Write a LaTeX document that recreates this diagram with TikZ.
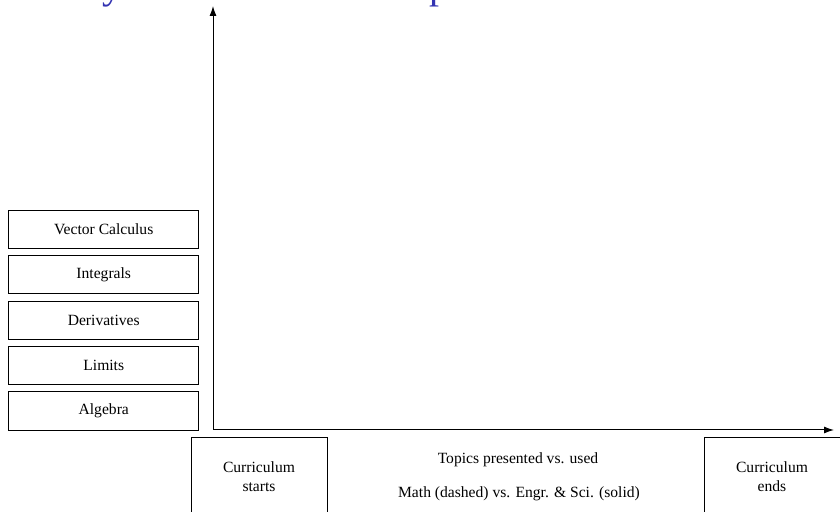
\documentclass[tikz,border=0pt]{standalone}
\usepackage{fontspec}
\setmainfont{Liberation Serif}
\usetikzlibrary{arrows.meta}
\definecolor{titleblue}{rgb}{0.2,0.2,0.7}
\begin{document}
\begin{tikzpicture}[x=0.5pt,y=-0.5pt,
  topicbox/.style={draw=black,line width=0.5pt,minimum width=95pt,minimum height=19.25pt,inner sep=0pt,font=\fontsize{7.8}{9.5}\selectfont},
  endbox/.style={draw=black,line width=0.5pt,minimum width=68pt,minimum height=39pt,inner sep=0pt,anchor=north,align=center,font=\fontsize{7.8}{9.5}\selectfont},
  axis/.style={line width=0.5pt,-{Latex[length=5pt,width=3.5pt]}},
  plain/.style={align=center,inner sep=0pt,font=\fontsize{7.8}{9.5}\selectfont}]
\useasboundingbox (0,0) rectangle (840,512);
\clip (0,0) rectangle (840,512);
\node[anchor=base west,inner sep=0pt,text=titleblue,font=\fontsize{20}{24}\selectfont] (title) at (44,-1) {Why Math Is Out of Step};
\node[topicbox] (vc) at (103.75,229.5) {Vector Calculus};
\node[topicbox] (int) at (103.75,274.5) {Integrals};
\node[topicbox] (der) at (103.75,320.5) {Derivatives};
\node[topicbox] (lim) at (103.75,365.5) {Limits};
\node[topicbox] (alg) at (103.75,411) {Algebra};
\coordinate (origin) at (213,430);
\coordinate (ytip) at (213,6);
\coordinate (xtip) at (834,430);
\draw[axis] (origin) -- (ytip);
\draw[axis] (origin) -- (xtip);
\node[endbox] (start) at (259,437) {Curriculum\\starts};
\node[endbox] (end) at (772,437) {Curriculum\\ends};
\node[plain] (topics) at (518,460) {Topics presented vs. used};
\node[plain] (legend) at (519,494) {Math (dashed) vs. Engr. \& Sci. (solid)};
\end{tikzpicture}
\end{document}
